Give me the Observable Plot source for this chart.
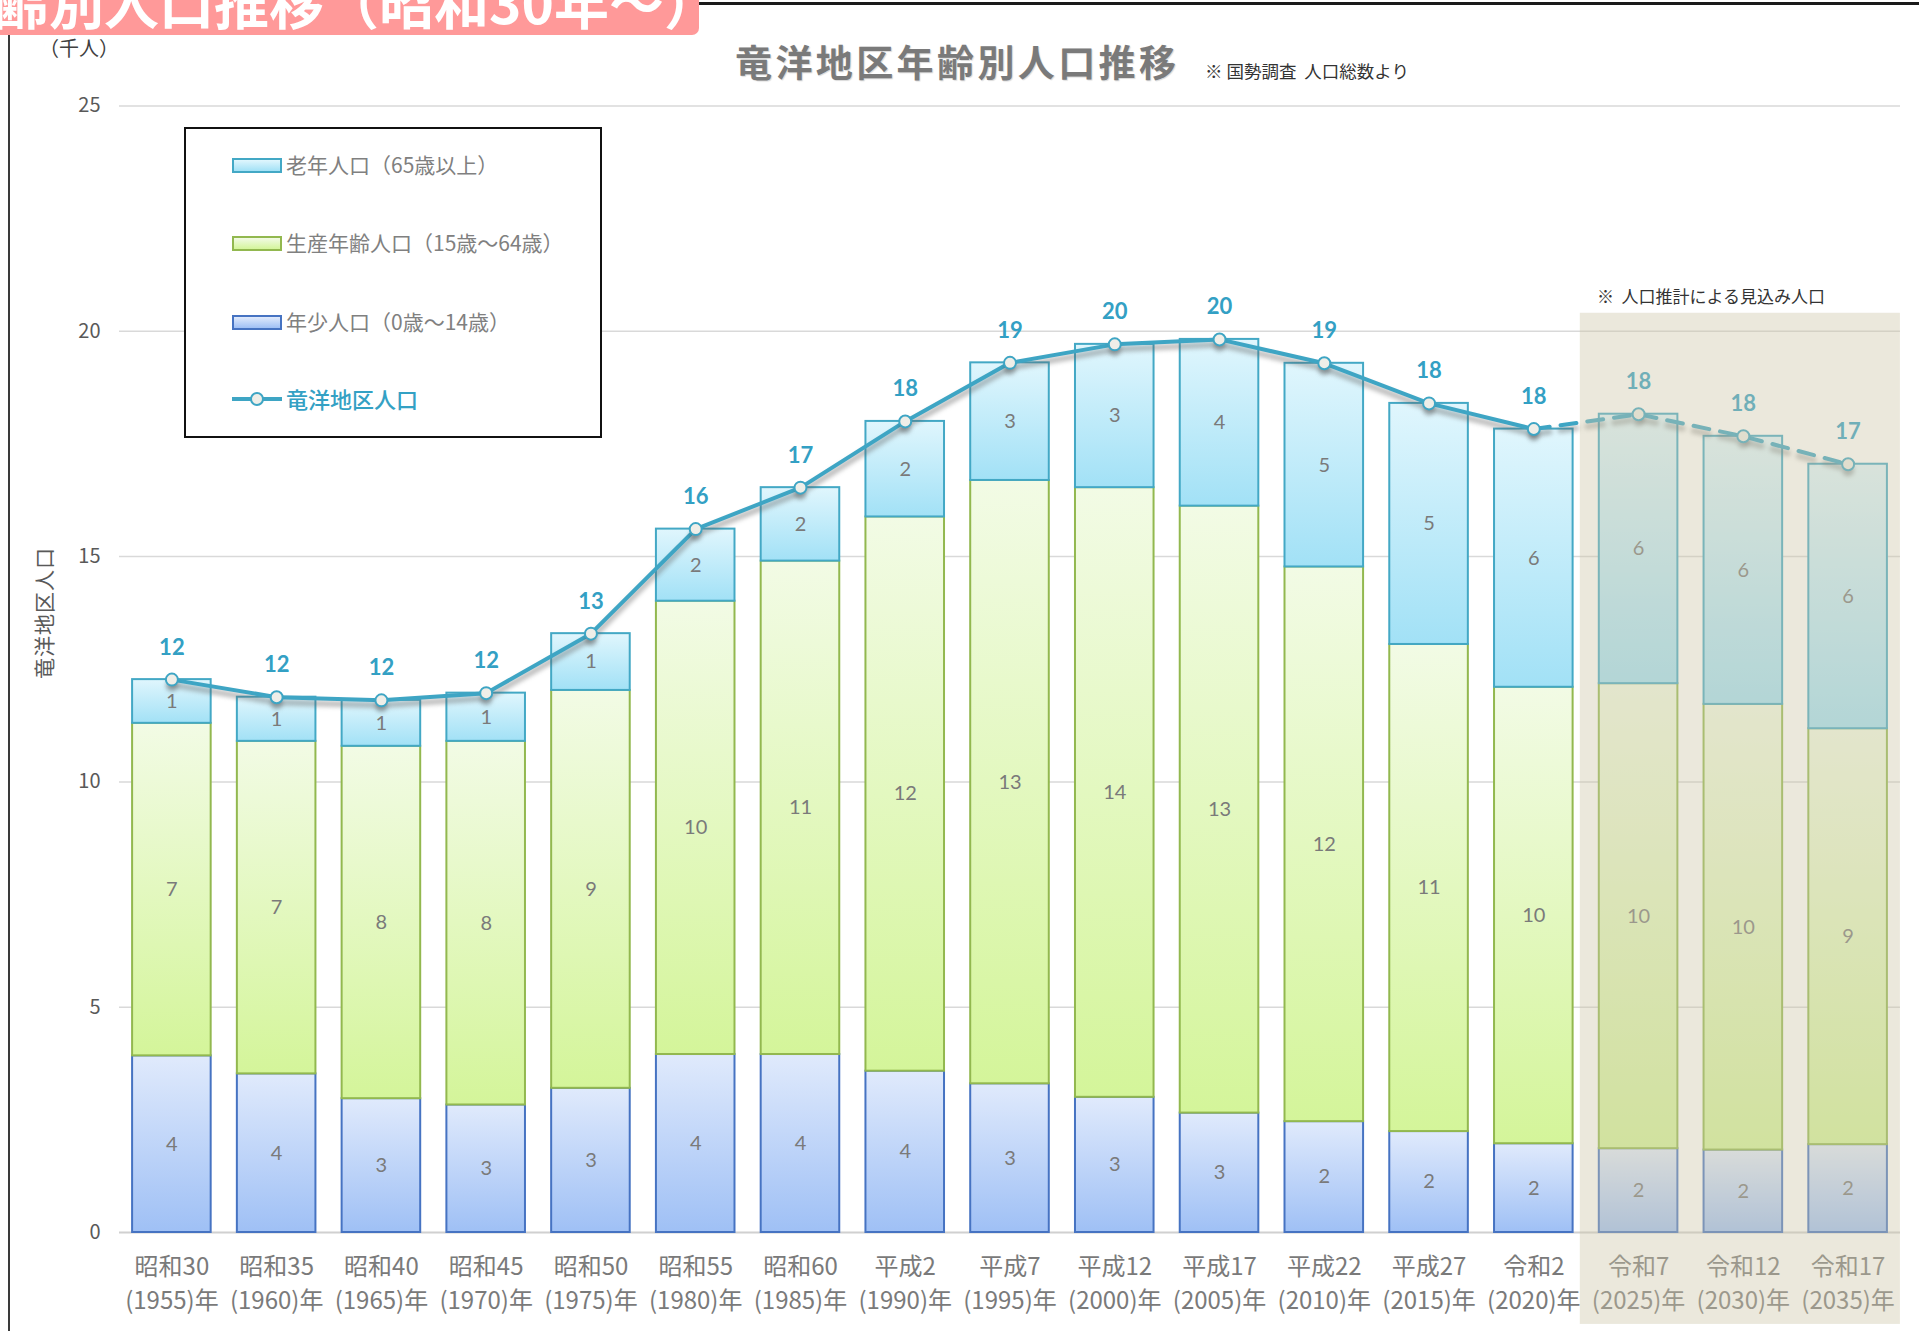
<!DOCTYPE html>
<html>
<head>
<meta charset="utf-8">
<script src="https://cdn.jsdelivr.net/npm/d3@7"></script>
<script src="https://cdn.jsdelivr.net/npm/@observablehq/plot@0.6"></script>
<style>
html, body { margin: 0; padding: 0; background: #fff; overflow: hidden; }
#wrap { position: relative; width: 1919px; height: 1331px; font-family: 'Noto Sans CJK JP', sans-serif; }
#chart { position: absolute; left: 0; top: 0; }
.abs { position: absolute; white-space: nowrap; line-height: 1; }
#banner { left: 0; top: 0; width: 699px; height: 35px; background: #ff9999; border-bottom-right-radius: 7px; overflow: hidden; }
#banner span { position: absolute; left: -6px; top: -27px; font-size: 55px; font-weight: bold; color: #fff; line-height: 1; }
#topline { left: 699px; top: 2px; width: 1220px; height: 3px; background: #1a1a1a; }
#leftline { left: 8px; top: 35px; width: 2px; height: 1296px; background: #3a3a3a; }
#title { left: 735px; top: 43px; font-size: 37px; font-weight: bold; color: #7a7a7a; letter-spacing: 3.4px; text-shadow: 1px 1px 1px rgba(0,0,0,0.15); }
#subtitle { left: 1205px; top: 62px; font-size: 17.5px; color: #333; }
#unit { left: 39px; top: 38px; font-size: 20px; color: #404040; }
#ylabel { left: 43px; top: 613px; font-size: 21px; color: #595959; letter-spacing: 1px; transform: translate(-50%, -50%) rotate(-90deg); }
#projnote { left: 1597px; top: 287px; font-size: 17px; color: #333; }
#legend { left: 184px; top: 127px; width: 418px; height: 311px; border: 2.5px solid #111; box-sizing: border-box; background: #fff; }
.sw { position: absolute; left: 232px; width: 50px; height: 15px; box-sizing: border-box; border: 2.5px solid; }
.lt { position: absolute; left: 286px; font-size: 21px; color: #808080; line-height: 1; white-space: nowrap; }
</style>
</head>
<body>
<div id="wrap">
  <div id="chart"></div>
  <div id="banner" class="abs"><span>齢別人口推移（昭和30年～）</span></div>
  <div id="topline" class="abs"></div>
  <div id="leftline" class="abs"></div>
  <div id="title" class="abs">竜洋地区年齢別人口推移</div>
  <div id="subtitle" class="abs">※ 国勢調査&nbsp;&nbsp;人口総数より</div>
  <div id="unit" class="abs">（千人）</div>
  <div id="ylabel" class="abs">竜洋地区人口</div>
  <div id="projnote" class="abs">※&nbsp;&nbsp;人口推計による見込み人口</div>
  <div id="legend" class="abs"></div>
  <div id="legendItems"></div>
</div>
<script>
// ---- Data (thousands of people) ----
const eras = ["昭和30","昭和35","昭和40","昭和45","昭和50","昭和55","昭和60","平成2","平成7","平成12","平成17","平成22","平成27","令和2","令和7","令和12","令和17"];
const years = [1955,1960,1965,1970,1975,1980,1985,1990,1995,2000,2005,2010,2015,2020,2025,2030,2035];
const young   = [3.92,3.52,2.97,2.83,3.20,3.95,3.95,3.58,3.30,3.00,2.65,2.46,2.24,1.97,1.86,1.83,1.95];
const working = [7.38,7.38,7.82,8.07,8.83,10.06,10.95,12.30,13.39,13.53,13.47,12.31,10.81,10.13,10.32,9.89,9.23];
const elderly = [0.97,0.98,1.02,1.07,1.26,1.60,1.63,2.12,2.61,3.18,3.70,4.52,5.35,5.73,5.98,5.95,5.87];
const totals  = [12.27,11.88,11.81,11.97,13.29,15.61,16.53,18.00,19.30,19.71,19.82,19.29,18.40,17.83,18.16,17.67,17.05];
const lastCensusYear = 2020;
const projectionYears = [2025, 2030, 2035];
const yTicks = [0, 5, 10, 15, 20, 25];
const shadeRange = [-2.04, 20.4];
const groupKeys = ["年少人口（0歳～14歳）", "生産年齢人口（15歳～64歳）", "老年人口（65歳以上）"];
const lineName = "竜洋地区人口";

// ---- Styles ----
const groupStyle = {
  "年少人口（0歳～14歳）": {fill: "url(#gYoung)", stroke: "#4673c2", top: "#e0eafc", bottom: "#9fc0f5"},
  "生産年齢人口（15歳～64歳）": {fill: "url(#gWork)", stroke: "#92b84f", top: "#f2fbe5", bottom: "#d4f59a"},
  "老年人口（65歳以上）": {fill: "url(#gOld)", stroke: "#43a8c5", top: "#e0f6fd", bottom: "#a2e1f6"}
};
const gradIds = {"年少人口（0歳～14歳）": "gYoung", "生産年齢人口（15歳～64歳）": "gWork", "老年人口（65歳以上）": "gOld"};
const lineColor = "#3ea5c4";

// ---- Tables built from arrays ----
const seriesValues = [young, working, elderly];
const rows = years.flatMap((yr, i) => groupKeys.map((g, k) => ({year: yr, group: g, value: seriesValues[k][i]})));
const totalRows = years.map((yr, i) => ({year: yr, total: totals[i]}));
const actualRows = totalRows.filter(d => d.year <= lastCensusYear);
const projRows = totalRows.filter(d => d.year >= lastCensusYear);
const eraOf = new Map(years.map((y, i) => [y, eras[i]]));

const gradientDefs = () => {
  const defs = d3.create("svg:defs");
  for (const g of groupKeys) {
    const lg = defs.append("linearGradient").attr("id", gradIds[g]).attr("x1", 0).attr("y1", 0).attr("x2", 0).attr("y2", 1);
    lg.append("stop").attr("offset", "0%").attr("stop-color", groupStyle[g].top);
    lg.append("stop").attr("offset", "100%").attr("stop-color", groupStyle[g].bottom);
  }
  return defs.node();
};

const chart = Plot.plot({
  width: 1919,
  height: 1331,
  marginLeft: 119,
  marginRight: 19,
  marginTop: 105.5,
  marginBottom: 99,
  style: {fontFamily: "'Noto Sans CJK JP', sans-serif", fontSize: "20px", color: "#595959", background: "transparent", overflow: "visible"},
  x: {type: "band", domain: years, paddingInner: 0.25, paddingOuter: 0.125, round: false, label: null},
  y: {domain: [0, 25], label: null},
  color: {type: "identity"},
  marks: [
    gradientDefs,
    Plot.ruleY(yTicks.filter(t => t > 0), {stroke: "#d9d9d9", strokeWidth: 1.5}),
    Plot.ruleY([0], {stroke: "#d0d0d0", strokeWidth: 2}),
    Plot.axisY({ticks: yTicks, tickSize: 0, tickPadding: 19, fontSize: 20, color: "#595959", label: null}),
    Plot.axisX({tickSize: 0, tickPadding: 18.5, fontSize: 24, lineHeight: 1.42, color: "#7a7a7a", label: null,
      tickFormat: y => `${eraOf.get(y)}\n(${y})年`}),
    Plot.barY(rows, Plot.stackY({x: "year", y: "value", z: "group", order: groupKeys,
      fill: d => groupStyle[d.group].fill, stroke: d => groupStyle[d.group].stroke, strokeWidth: 2})),
    Plot.text(rows, Plot.stackY({x: "year", y: "value", z: "group", order: groupKeys,
      text: d => Math.round(d.value), fill: "#7a7a7a", fontSize: 20, fontFamily: "Lato, sans-serif"})),
    Plot.line(actualRows, {x: "year", y: "total", stroke: "#606060", strokeOpacity: 0.4, strokeWidth: 6, dy: 5, imageFilter: "blur(2px)"}),
    Plot.line(projRows, {x: "year", y: "total", stroke: "#606060", strokeOpacity: 0.4, strokeWidth: 6, dy: 5, strokeDasharray: "16,11", imageFilter: "blur(2px)"}),
    Plot.line(actualRows, {x: "year", y: "total", stroke: lineColor, strokeWidth: 4}),
    Plot.line(projRows, {x: "year", y: "total", stroke: lineColor, strokeWidth: 4, strokeDasharray: "16,11"}),
    Plot.dot(totalRows, {x: "year", y: "total", r: 6, fill: "#444", fillOpacity: 0.4, dy: 6, imageFilter: "blur(2px)"}),
    Plot.dot(totalRows, {x: "year", y: "total", r: 6, fill: "#efeee8", stroke: lineColor, strokeWidth: 2}),
    Plot.text(totalRows, {x: "year", y: "total", text: d => Math.round(d.total), dy: -32,
      fill: "#33a0c4", fontWeight: "bold", fontSize: 22, fontFamily: "Lato, sans-serif"}),
    Plot.rect([projectionYears], {x1: d => d[0], x2: d => d[d.length - 1], y1: shadeRange[0], y2: shadeRange[1],
      fill: "#cdc5a7", fillOpacity: 0.4, insetLeft: -19, insetRight: -13})
  ]
});
document.getElementById("chart").append(chart);

// ---- Legend (HTML) ----
const legendRows = [
  {label: groupKeys[2], cy: 165},
  {label: groupKeys[1], cy: 243.6},
  {label: groupKeys[0], cy: 322}
];
const li = document.getElementById("legendItems");
for (const r of legendRows) {
  const st = groupStyle[r.label];
  const sw = document.createElement("div");
  sw.className = "sw";
  sw.style.top = (r.cy - 7.5) + "px";
  sw.style.borderColor = st.stroke;
  sw.style.background = `linear-gradient(${st.top}, ${st.bottom})`;
  li.append(sw);
  const t = document.createElement("div");
  t.className = "lt";
  t.style.top = (r.cy - 11.5) + "px";
  t.textContent = r.label;
  li.append(t);
}
{
  const cy = 399;
  const ln = document.createElement("div");
  ln.style.cssText = `position:absolute;left:232px;top:${cy - 2}px;width:50px;height:4px;background:${lineColor};`;
  li.append(ln);
  const c = document.createElement("div");
  c.style.cssText = `position:absolute;left:${257 - 7}px;top:${cy - 7}px;width:14px;height:14px;box-sizing:border-box;border-radius:50%;border:2.5px solid ${lineColor};background:#efeee8;`;
  li.append(c);
  const t = document.createElement("div");
  t.className = "lt";
  t.style.top = (cy - 12) + "px";
  t.style.color = "#34a1c4";
  t.style.fontSize = "22px";
  t.style.fontWeight = "500";
  t.textContent = lineName;
  li.append(t);
}
</script>
</body>
</html>
